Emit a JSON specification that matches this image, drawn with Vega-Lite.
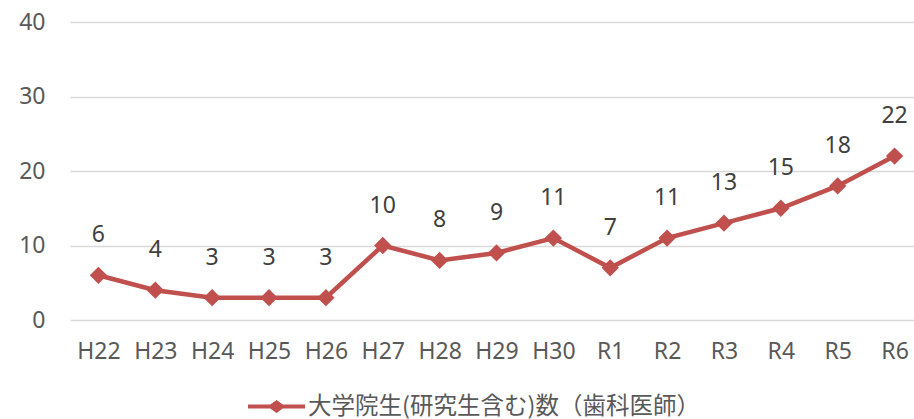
{
  "$schema": "https://vega.github.io/schema/vega-lite/v6.json",
  "width": 853,
  "height": 298,
  "autosize": {"type": "none"},
  "padding": {"left": 70, "top": 22, "right": 0, "bottom": 99},
  "background": "white",
  "config": {
    "view": {"stroke": null},
    "font": "Noto Sans"
  },
  "data": {
    "values": [
      {"year": "H22", "value": 6, "series": "大学院生(研究生含む)数（歯科医師）"},
      {"year": "H23", "value": 4, "series": "大学院生(研究生含む)数（歯科医師）"},
      {"year": "H24", "value": 3, "series": "大学院生(研究生含む)数（歯科医師）"},
      {"year": "H25", "value": 3, "series": "大学院生(研究生含む)数（歯科医師）"},
      {"year": "H26", "value": 3, "series": "大学院生(研究生含む)数（歯科医師）"},
      {"year": "H27", "value": 10, "series": "大学院生(研究生含む)数（歯科医師）"},
      {"year": "H28", "value": 8, "series": "大学院生(研究生含む)数（歯科医師）"},
      {"year": "H29", "value": 9, "series": "大学院生(研究生含む)数（歯科医師）"},
      {"year": "H30", "value": 11, "series": "大学院生(研究生含む)数（歯科医師）"},
      {"year": "R1", "value": 7, "series": "大学院生(研究生含む)数（歯科医師）"},
      {"year": "R2", "value": 11, "series": "大学院生(研究生含む)数（歯科医師）"},
      {"year": "R3", "value": 13, "series": "大学院生(研究生含む)数（歯科医師）"},
      {"year": "R4", "value": 15, "series": "大学院生(研究生含む)数（歯科医師）"},
      {"year": "R5", "value": 18, "series": "大学院生(研究生含む)数（歯科医師）"},
      {"year": "R6", "value": 22, "series": "大学院生(研究生含む)数（歯科医師）"}
    ]
  },
  "encoding": {
    "x": {
      "field": "year", "type": "ordinal", "sort": null,
      "scale": {"type": "point", "padding": 0.5},
      "axis": {
        "title": null, "labelAngle": 0, "ticks": false, "domain": false, "grid": false,
        "labelFont": "Noto Sans", "labelFontSize": 23, "labelColor": "#595959", "labelPadding": 20
      }
    },
    "y": {
      "field": "value", "type": "quantitative",
      "scale": {"domain": [0, 40]},
      "axis": {
        "title": null, "values": [0, 10, 20, 30, 40], "ticks": false, "domain": false,
        "gridColor": "#D9D9D9", "gridWidth": 1.5,
        "labelFont": "Noto Sans", "labelFontSize": 23, "labelColor": "#595959", "labelPadding": 25
      }
    }
  },
  "layer": [
    {
      "mark": {"type": "line", "strokeWidth": 4.5, "color": "#C0504D"},
      "encoding": {
        "color": {
          "field": "series", "type": "nominal",
          "scale": {"range": ["#C0504D"]},
          "legend": {
            "title": null, "orient": "none", "legendX": 178, "legendY": 356,
            "symbolType": "M-1,-0.07H-0.22L0,-0.23L0.22,-0.07H1V0.07H0.22L0,0.23L-0.22,0.07H-1Z",
            "symbolSize": 3249, "symbolFillColor": "#C0504D", "symbolStrokeWidth": 0,
            "labelFont": "Noto Sans CJK JP", "labelFontSize": 23.5, "labelColor": "#595959", "labelOffset": 3,
            "labelLimit": 700
          }
        }
      }
    },
    {
      "mark": {"type": "point", "shape": "diamond", "filled": true, "size": 300, "opacity": 1, "color": "#C0504D"},
      "encoding": {}
    },
    {
      "mark": {"type": "text", "dy": -40, "baseline": "middle", "font": "Noto Sans", "fontSize": 23, "color": "#404040"},
      "encoding": {"text": {"field": "value", "type": "quantitative"}}
    }
  ]
}
